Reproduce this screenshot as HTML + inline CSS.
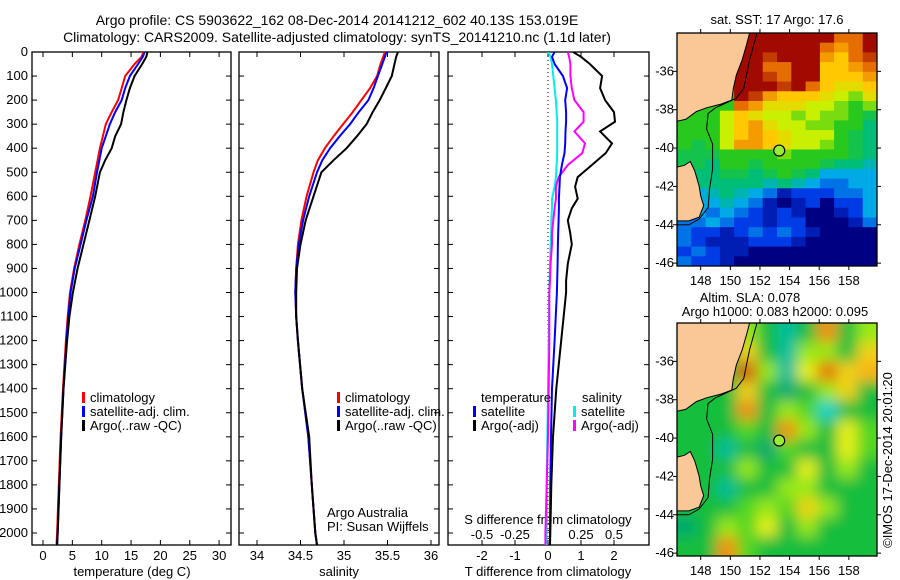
<!DOCTYPE html>
<html><head><meta charset="utf-8"><style>
html,body{margin:0;padding:0;background:#fff}
svg{display:block;font-family:"Liberation Sans",sans-serif}
text{font-size:13px;fill:#000}
</style></head><body>
<svg id="s" width="900" height="580" viewBox="0 0 900 580">
<defs>
<clipPath id="c1"><rect x="32" y="52" width="199" height="493"/></clipPath>
<clipPath id="c2"><rect x="239" y="52" width="200" height="493"/></clipPath>
<clipPath id="c3"><rect x="448" y="52" width="201" height="493"/></clipPath>
<clipPath id="cm1"><rect x="677" y="33" width="200" height="233"/></clipPath>
<clipPath id="cm2"><rect x="677" y="323" width="200" height="233"/></clipPath>
<filter id="blur" x="-10%" y="-10%" width="120%" height="120%"><feGaussianBlur stdDeviation="7"/></filter>
</defs>
<text x="337" y="25" text-anchor="middle" style="font-size:14px">Argo profile: CS 5903622_162 08-Dec-2014 20141212_602 40.13S 153.019E</text>
<text x="337" y="42" text-anchor="middle" style="font-size:14px">Climatology: CARS2009. Satellite-adjusted climatology: synTS_20141210.nc (1.1d later)</text>
<g id="g"></g>
<text transform="translate(892,460) rotate(-90)" text-anchor="middle">©IMOS 17-Dec-2014 20:01:20</text>
</svg>
<script>
// ---- data ----
const depthT = [0,20,50,100,150,200,250,300,350,400,450,500,600,700,800,900,1000,1100,1200,1400,1600,1800,2000,2050];
const tempClim = [17.1,16.8,15.6,14.0,13.4,12.8,11.7,10.7,10.2,9.7,9.3,8.9,8.1,7.2,6.2,5.3,4.6,4.2,3.9,3.4,3.0,2.7,2.4,2.3];
const tempSat  = [17.3,17.0,16.2,14.8,14.0,13.4,12.3,11.4,10.7,10.0,9.6,9.2,8.5,7.4,6.4,5.4,4.7,4.3,4.0,3.5,3.1,2.8,2.5,2.4];
const tempArgo = [17.8,17.6,16.9,15.6,14.8,14.2,13.7,13.3,12.3,11.7,10.6,9.7,8.9,7.9,6.9,5.9,5.1,4.5,4.1,3.5,3.1,2.8,2.5,2.4];
const salClim = [35.47,35.45,35.42,35.38,35.30,35.20,35.10,34.99,34.88,34.78,34.70,34.65,34.57,34.51,34.47,34.45,34.44,34.45,34.47,34.52,34.59,34.63,34.67,34.69];
const salSat  = [35.49,35.47,35.44,35.39,35.34,35.28,35.17,35.07,34.95,34.84,34.75,34.69,34.60,34.53,34.48,34.45,34.44,34.45,34.47,34.52,34.59,34.63,34.67,34.69];
const salArgo = [35.62,35.60,35.58,35.55,35.48,35.41,35.33,35.26,35.15,35.03,34.88,34.74,34.65,34.56,34.50,34.46,34.45,34.45,34.47,34.52,34.60,34.63,34.67,34.69];
const depthD = [0,20,50,100,150,200,250,290,330,380,420,470,520,560,610,650,700,750,800,880,950,1000,1200,1400,1600,1800,2000,2050];
const dTsat  = [0.20,0.12,0.20,0.45,0.58,0.52,0.55,0.55,0.53,0.52,0.50,0.42,0.36,0.35,0.33,0.33,0.32,0.31,0.30,0.29,0.28,0.27,0.20,0.12,0.09,0.07,0.06,0.06];
const dTargo = [0.76,1.00,1.27,1.64,1.58,1.73,2.00,2.03,1.58,1.94,1.75,1.33,0.90,0.82,0.90,0.72,0.60,0.67,0.72,0.60,0.55,0.55,0.40,0.25,0.15,0.10,0.07,0.06];
const dSsat  = [0.00,0.02,0.03,0.04,0.05,0.06,0.065,0.07,0.07,0.07,0.07,0.065,0.06,0.05,0.03,0.03,0.025,0.025,0.02,0.015,0.012,0.01,0.005,0.0,-0.005,-0.01,-0.01,-0.01];
const dSargo = [0.15,0.16,0.17,0.17,0.18,0.20,0.27,0.27,0.20,0.28,0.26,0.15,0.08,0.06,0.06,0.05,0.04,0.03,0.03,0.02,0.015,0.01,0.01,0.005,0.0,-0.01,-0.02,-0.02];
const depthTicks = [0,100,200,300,400,500,600,700,800,900,1000,1100,1200,1300,1400,1500,1600,1700,1800,1900,2000];
const tempTicks = [0,5,10,15,20,25,30];
const salTicks = [34,34.5,35,35.5,36];
const salTickLabels = ["34","34.5","35","35.5","36"];
const dTTicks = [-2,-1,0,1,2];
const dSTicks = [-0.5,-0.25,0,0.25,0.5];
const dSTickLabels = ["-0.5","-0.25","0","0.25","0.5"];
const lonTicks = [148,150,152,154,156,158];
const latTicks = [-36,-38,-40,-42,-44,-46];
// SST grid (rows lat -34 -> -46 in 0.5 deg, cols lon 146.4 -> 159.9 in 14 cols)
const sstGrid = [
[17,17,17,17,21,21,21,21,21,21,21,20,20,21],
[17,17,17,17,21,21,21,21,21,21,20,19.5,20,21],
[17,17,17,17,21,21,20.5,21,21,21,19.5,19,20,20.5],
[17,17,17,17,21,21,20,20,21,21,19,19,19.5,20],
[17,17,17,17,21,21,20.5,20,21,21,19,19,19,19.5],
[17,17,17,17,21,21,21,20.5,21,20,19,18.5,18.5,19],
[17,17,17,17,21,20.5,19.5,19,19,19,18.5,18,17.5,18.5],
[17,17,17,17,20,19.5,18.5,18.5,18.5,18,18,17.5,17,17.5],
[17,17,17,18,19,18.5,18,18,17.5,18,17.5,17.5,17,16.5],
[17,17,17,18,19,19.5,18.5,18,18,17.5,17.5,17,17,16],
[17,17,17,18,19,19.5,19,18.5,18,18,18,17,16.5,16],
[17,16.5,17,18,19.5,19.5,19,18.5,18,18,17.5,17,16.5,16],
[16.5,16.5,16.5,17,17,17,17,17.5,17,17,17,17,16.5,16],
[16.5,16.5,16,17,17,16.5,17,17,17,17,16.5,16,16,15.5],
[16,16,16,16.5,16.5,16,16.5,17,16.5,16,15,15,15,15],
[16,16,16,16,16,16,15.5,16,15.5,15,14.5,14.5,15,15],
[15,15,15.5,16,15.5,15,14.5,13.5,14,14,14,14.5,14.5,15],
[15,15,15,15.5,15,14.5,13.5,13,13.5,14,13,14,14,15],
[15,15,14.5,15,14.5,14,13.5,14,13.5,13,13,13.5,14,15],
[14.5,14.5,15,14.5,14,14,13.5,14,14,13,13,13,13.5,14.5],
[14.5,14,14,13.5,14,14.5,14,14.5,14,13.5,13,13,13,13],
[14.5,14,13.5,13.5,13.5,14,14,14,13.5,13,13,13,13,13],
[14,14.5,14,13.5,13.5,13,13,13,13,13,13,13,13,13],
[14.5,14,14,13.5,13,13,13,13,13,13,13,13,13,13]];
const slaGrid = [
[0,0,0,0.1,0,-0.1,0,0.3,0,0.1],
[0,0,0,0.2,0,-0.1,0.1,0.1,0,0.2],
[0,0,0,0.4,0.1,-0.1,0.15,0.35,0.2,0.25],
[0,0,0,0.2,0,-0.05,0,0.1,0.2,0],
[0,0,0,0.3,0,0.1,0.05,-0.15,0,0],
[0,0,0,0.05,0,0.3,0.1,0,0.15,0.05],
[0,0,-0.1,0,-0.05,0.05,0,0,0.15,0.05],
[0,0,0,0.1,0,0,0.15,0,0.1,0],
[0,0,-0.1,0,0,0.1,0.1,0,0,0],
[0,0,0,0.05,0.1,0.05,0.2,0.1,0,0],
[-0.05,0,0.1,0.05,0.15,0,0.1,0,0,0],
[0,0,0.3,0.05,0,0,0,0,0,0]];
const argoLon = [153.3];
const argoLat = [-40.13];
const coastLon = [146.4,151.3,151.1,150.8,150.4,150.2,150.1,149.4,148.4,147.7,147.0,146.4];
const coastLat = [-34.0,-34.0,-34.6,-35.4,-36.2,-36.9,-37.5,-37.7,-37.9,-38.1,-38.5,-38.6];
const tasLon = [146.4,146.9,147.3,147.6,147.9,148.0,148.2,147.9,147.2,146.4];
const tasLat = [-41.0,-40.9,-40.7,-41.2,-42.0,-42.5,-43.0,-43.6,-43.8,-43.8];
const isoLon = [151.8,151.3,150.9,150.4,149.0,148.5,148.4,148.8,148.8,148.6,148.5,147.9,147.2,146.4];
const isoLat = [-34.0,-35.4,-36.9,-37.4,-37.9,-38.2,-39.0,-39.8,-41.1,-42.1,-43.1,-43.7,-44.0,-44.0];

const NS="http://www.w3.org/2000/svg";
const G=document.getElementById('g');
function el(tag,attrs,parent,txt){const e=document.createElementNS(NS,tag);for(const k in attrs)e.setAttribute(k,attrs[k]);if(txt!==undefined)e.textContent=txt;(parent||G).appendChild(e);return e;}
const yD=d=>52+d*0.2405;
const xT=v=>43+v*5.87;
const xS=v=>257+(v-34)*87;
const xDT=v=>548+v*33;
const xDS=v=>548+v*132;

function stepPath(xs,ds,fx){let p='';for(let i=0;i<xs.length;i++){const x=fx(xs[i]).toFixed(1),y=yD(ds[i]).toFixed(1);p+=(i?'L':'M')+x+' '+y;}return p;}
function line(xs,ds,fx,color,clip,name){
  const e=el('path',{d:stepPath(xs,ds,fx),fill:'none',stroke:color,'stroke-width':2,'clip-path':'url(#'+clip+')'});
  
  
}
function panel(x0,x1,name){
  const r=el('rect',{x:x0,y:52,width:x1-x0,height:493,fill:'none',stroke:'#000','stroke-width':1.3});
  
  
  depthTicks.forEach(d=>{const y=yD(d);el('line',{x1:x0,x2:x0+5,y1:y,y2:y,stroke:'#000'});el('line',{x1:x1-5,x2:x1,y1:y,y2:y,stroke:'#000'});});
}
function xTicks(vals,labels,fx,y,tickTop,name){
  vals.forEach((v,i)=>{const x=fx(v);el('line',{x1:x,x2:x,y1:545,y2:540,stroke:'#000'});if(tickTop)el('line',{x1:x,x2:x,y1:52,y2:57,stroke:'#000'});
    const t=el('text',{x:x,y:y,'text-anchor':'middle'},G,labels[i]);
    
    });
}
panel(32,231,'temperature-panel');panel(239,439,'salinity-panel');panel(448,649,'difference-panel');
depthTicks.forEach(d=>{const t=el('text',{x:28,y:yD(d)+4,'text-anchor':'end'},G,String(d));
  
  });
xTicks(tempTicks,tempTicks.map(String),xT,560,true,'temperature-tick-label');
xTicks(salTicks,salTickLabels,xS,560,true,'salinity-tick-label');
xTicks(dTTicks,dTTicks.map(String),xDT,560,true,'t-diff-tick-label');
dSTicks.forEach((v,i)=>{const x=xDS(v);el('line',{x1:x,x2:x,y1:545,y2:541,stroke:'#000'});
  const t=el('text',{x:x,y:539,'text-anchor':'middle'},G,dSTickLabels[i]);
  
  });
[['temperature (deg C)',132,'temperature-axis-title'],['salinity',339,'salinity-axis-title'],['T difference from climatology',548,'t-diff-axis-title']].forEach(a=>{
  const t=el('text',{x:a[1],y:576,'text-anchor':'middle'},G,a[0]);
  
  });
const st=el('text',{x:548,y:524,'text-anchor':'middle'},G,'S difference from climatology');


el('line',{x1:548,x2:548,y1:52,y2:545,stroke:'#000','stroke-dasharray':'1 3'});
line(tempClim,depthT,xT,'#f00','c1','temp-climatology-line');
line(tempSat,depthT,xT,'#00f','c1','temp-satellite-line');
line(tempArgo,depthT,xT,'#000','c1','temp-argo-line');
line(salClim,depthT,xS,'#f00','c2','sal-climatology-line');
line(salSat,depthT,xS,'#00f','c2','sal-satellite-line');
line(salArgo,depthT,xS,'#000','c2','sal-argo-line');
line(dSsat,depthD,xDS,'#0ee','c3','s-diff-satellite-line');
line(dSargo,depthD,xDS,'#f0f','c3','s-diff-argo-line');
line(dTsat,depthD,xDT,'#00f','c3','t-diff-satellite-line');
line(dTargo,depthD,xDT,'#000','c3','t-diff-argo-line');
function leg(x,y,color,label){el('rect',{x:x,y:y-10,width:3,height:11,fill:color});
  const t=el('text',{x:x+8,y:y},G,label);
  
  }
[[82,'#f00','climatology',402],[82,'#00f','satellite-adj. clim.',416],[82,'#000','Argo(..raw -QC)',430]].forEach(a=>leg(a[0],a[3],a[1],a[2]));
[[337,'#f00','climatology',402],[337,'#00f','satellite-adj. clim.',416],[337,'#000','Argo(..raw -QC)',430]].forEach(a=>leg(a[0],a[3],a[1],a[2]));
el('text',{x:481,y:402},G,'temperature');el('text',{x:582,y:402},G,'salinity');
leg(473,416,'#00f','satellite');leg(473,430,'#000','Argo(-adj)');
leg(573,416,'#0ee','satellite');leg(573,430,'#f0f','Argo(-adj)');
el('text',{x:327,y:517},G,'Argo Australia');el('text',{x:327,y:531},G,'PI: Susan Wijffels');

// ---- maps ----
const lon0=146.4,lon1=159.9,lat0=-34,lat1=-46.15;
function mx(l){return 677+(l-lon0)/(lon1-lon0)*200;}
function my(l,top){return top+(l-lat0)/(lat1-lat0)*233;}
function interp(stops,v){if(v<=stops[0][0])return 'rgb('+stops[0][1].join(',')+')';const L=stops[stops.length-1];if(v>=L[0])return 'rgb('+L[1].join(',')+')';
  for(let i=0;i<stops.length-1;i++){if(v<=stops[i+1][0]){const f=(v-stops[i][0])/(stops[i+1][0]-stops[i][0]);const a=stops[i][1],b=stops[i+1][1];return 'rgb('+a.map((c,j)=>Math.round(c+(b[j]-c)*f)).join(',')+')';}}}
const sstStops=[[13,[0,0,130]],[14,[0,60,230]],[15,[0,170,230]],[16,[0,190,120]],[17,[40,200,30]],[18,[200,240,0]],[19,[255,200,0]],[20,[230,110,0]],[21,[160,10,0]]];
const slaStops=[[-0.15,[0,210,200]],[-0.05,[0,170,110]],[0,[20,190,60]],[0.08,[120,230,20]],[0.15,[230,240,20]],[0.25,[250,180,20]],[0.35,[230,110,10]],[0.45,[190,50,0]]];
const sstColor=v=>interp(sstStops,v), slaColor=v=>interp(slaStops,v);
function poly(lons,lats,top){return lons.map((l,i)=>mx(l).toFixed(1)+','+my(lats[i],top).toFixed(1)).join(' ');}
function drawMap(top,grid,colorFn,blur,name){
  const grp=el('g',{'clip-path':'url(#'+(top<100?'cm1':'cm2')+')'});
  
  
  const cells=el('g',blur?{filter:'url(#blur)'}:{},grp);
  const nr=grid.length,nc=grid[0].length,cw=(lon1-lon0)/nc,rh=(lat0-lat1)/nr;
  const ext=blur?1:0;
  for(let r=-ext;r<nr+ext;r++)for(let c=-ext;c<nc+ext;c++){
    const v=grid[Math.min(nr-1,Math.max(0,r))][Math.min(nc-1,Math.max(0,c))];
    const x=mx(lon0+c*cw),y=my(lat0-r*rh,top);
    const rc=el('rect',{x:x.toFixed(1),y:y.toFixed(1),width:(200/nc+0.6).toFixed(1),height:(233/nr+0.6).toFixed(1),fill:colorFn(v)},cells);
    
    
  }
  el('polygon',{points:poly(coastLon,coastLat,top),fill:'#fac896',stroke:'#000','stroke-width':1},grp);
  el('polygon',{points:poly(tasLon,tasLat,top),fill:'#fac896',stroke:'#000','stroke-width':1},grp);
  el('polyline',{points:poly(isoLon,isoLat,top),fill:'none',stroke:'#000','stroke-width':1},grp);
  const ci=el('circle',{cx:mx(argoLon[0]),cy:my(argoLat[0],top),r:5.5,fill:'#9e3',stroke:'#000','stroke-width':1.2},grp);
  
  
  el('rect',{x:677,y:top,width:200,height:233,fill:'none',stroke:'#000','stroke-width':1.3});
  lonTicks.forEach(l=>{const x=mx(l);el('line',{x1:x,x2:x,y1:top,y2:top-4,stroke:'#000'});el('line',{x1:x,x2:x,y1:top+233,y2:top+237,stroke:'#000'});
    const t=el('text',{x:x,y:top+252,'text-anchor':'middle'},G,String(l));
    
    });
  latTicks.forEach(l=>{const y=my(l,top);el('line',{x1:673,x2:677,y1:y,y2:y,stroke:'#000'});el('line',{x1:877,x2:881,y1:y,y2:y,stroke:'#000'});
    const t=el('text',{x:674,y:y+4,'text-anchor':'end'},G,String(l));
    
    });
}
drawMap(33,sstGrid,sstColor,false,'sst-map');
drawMap(323,slaGrid,slaColor,true,'sla-map');
[['sat. SST: 17 Argo: 17.6',777,24,'sst-map-title'],['Altim. SLA: 0.078',750,302,'sla-map-title'],['Argo h1000: 0.083 h2000: 0.095',775,316,'sla-map-subtitle']].forEach(a=>{
  const t=el('text',{x:a[1],y:a[2],'text-anchor':'middle'},G,a[0]);
  
  });
</script>
</body></html>
